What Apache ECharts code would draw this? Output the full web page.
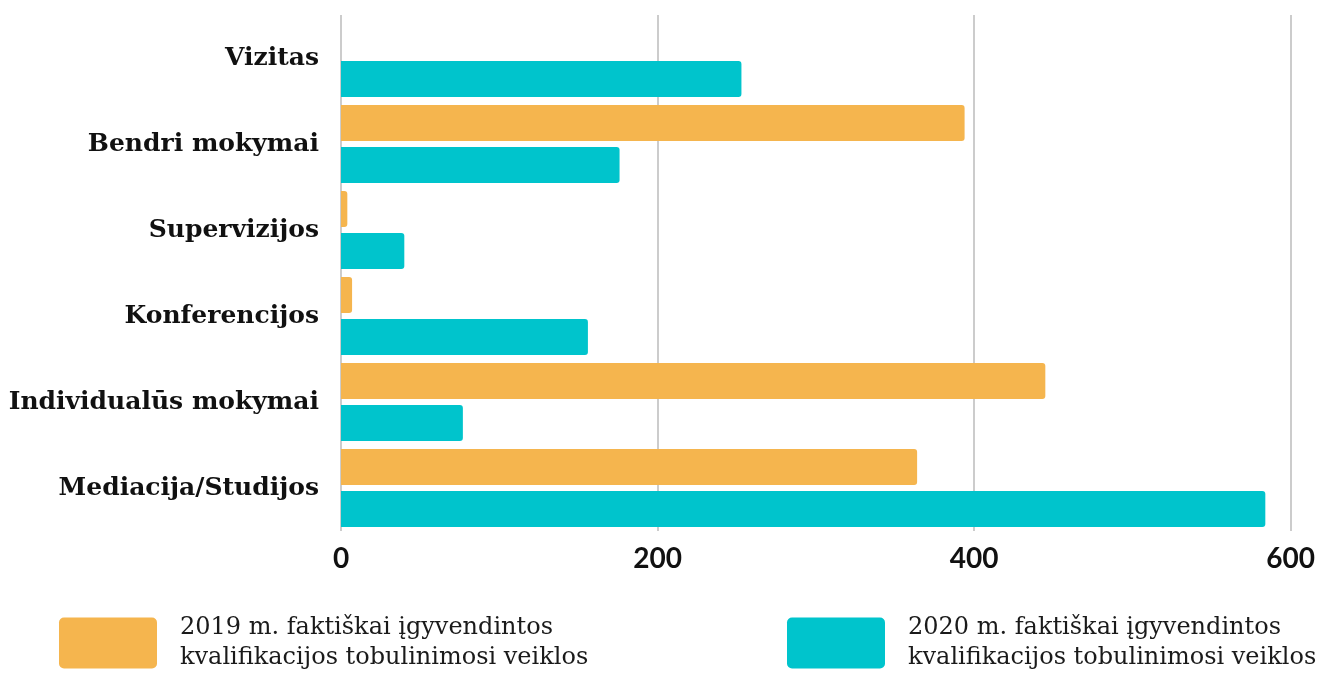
<!DOCTYPE html>
<html><head><meta charset="utf-8">
<script src="https://cdn.jsdelivr.net/npm/echarts@6/dist/echarts.min.js"></script>
<style>html,body{margin:0;padding:0;background:#fff}#c{width:1318px;height:673px}</style>
</head><body><div id="c"></div>
<script>
const categories = ['Vizitas','Bendri mokymai','Supervizijos','Konferencijos','Individualūs mokymai','Mediacija/Studijos'];
const values2019 = [0, 394, 4, 7, 445, 364];
const values2020 = [253, 176, 40, 156, 77, 584];
const xTicks = [0, 200, 400, 600];
const name2019 = '2019 m. faktiškai įgyvendintos kvalifikacijos tobulinimosi veiklos';
const name2020 = '2020 m. faktiškai įgyvendintos kvalifikacijos tobulinimosi veiklos';

const chart = echarts.init(document.getElementById('c'), null, {renderer:'canvas'});
const rr = 'path://M5,0H93A5,5 0 0 1 98,5V46A5,5 0 0 1 93,51H5A5,5 0 0 1 0,46V5A5,5 0 0 1 5,0Z';
const legendCommon = {
  itemWidth: 98, itemHeight: 51, top: 607, icon: rr, padding: 0,
  formatter: n => n.replace(' kvalifikacijos', '\nkvalifikacijos'),
  textStyle: {fontFamily:'DejaVu Serif', fontSize: 24, lineHeight: 30, color:'#1a1a1a', padding:[12,0,0,18]},
  selectedMode: false
};
chart.setOption({
  animation: false,
  grid: {left: 341, right: 27, top: 15, bottom: 142, containLabel: false},
  xAxis: {
    type: 'value', min: 0, max: 600, interval: 200,
    axisLine: {show: false}, axisTick: {show: false},
    splitLine: {lineStyle: {color: '#cccccc', width: 2}},
    axisLabel: {fontFamily: 'Lato', fontWeight: 'bold', fontSize: 28, color: '#111', margin: 14,
      formatter: v => xTicks.includes(v) ? String(v) : ''}
  },
  yAxis: {
    type: 'category', data: categories, inverse: true,
    axisLine: {show: false}, axisTick: {show: false},
    axisLabel: {fontFamily: 'DejaVu Serif', fontWeight: 'bold', fontSize: 25, color: '#111', margin: 22}
  },
  legend: [
    Object.assign({left: 59, data: [name2019]}, legendCommon),
    Object.assign({left: 787, data: [name2020]}, legendCommon)
  ],
  series: [
    {name: name2019, type: 'bar', data: values2019, barWidth: 36, barGap: '16%',
     itemStyle: {color: '#F5B54E', borderRadius: [0,3,3,0]}},
    {name: name2020, type: 'bar', data: values2020, barWidth: 36, barGap: '16%',
     itemStyle: {color: '#00C4CC', borderRadius: [0,3,3,0]}}
  ]
});
</script></body></html>
